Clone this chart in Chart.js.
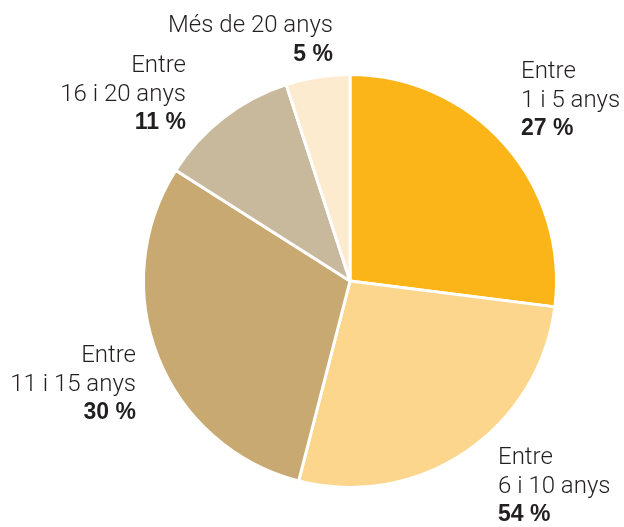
<!DOCTYPE html>
<html>
<head>
<meta charset="utf-8">
<script src="https://cdn.jsdelivr.net/npm/chart.js@4/dist/chart.umd.min.js"></script>
<style>
html,body{margin:0;padding:0;background:#fff;}
canvas{display:block;}
</style>
</head>
<body>
<canvas id="c" width="624" height="527"></canvas>
<script>
// Data
const categories = ["Entre 1 i 5 anys", "Entre 6 i 10 anys", "Entre 11 i 15 anys", "Entre 16 i 20 anys", "Més de 20 anys"];
const values = [27, 27, 30, 11, 5];
const percentLabels = ["27 %", "54 %", "30 %", "11 %", "5 %"];
const labelLines = [
  ["Entre", "1 i 5 anys"],
  ["Entre", "6 i 10 anys"],
  ["Entre", "11 i 15 anys"],
  ["Entre", "16 i 20 anys"],
  ["Més de 20 anys"]
];
const colors = ["#FCB519", "#FDD68E", "#C8A971", "#C8B99C", "#FDEBCF"];

// Label placement (relative to pie centre, pixels): [dx of anchor, dy of first baseline, align]
const labelPlacement = [
  [171, -203, "left"],
  [148, 183, "left"],
  [-214, 81, "right"],
  [-164, -209, "right"],
  [-17, -249, "right"]
];

const FONT = "'Roboto','Liberation Sans',Arial,sans-serif";

const labelsPlugin = {
  id: 'sliceLabels',
  afterDraw(chart) {
    const ctx = chart.ctx;
    const meta = chart.getDatasetMeta(0);
    const arc = meta.data[0];
    const cx = arc.x, cy = arc.y;
    const lh = 28.7;
    ctx.save();
    ctx.fillStyle = '#231F20';
    ctx.textBaseline = 'alphabetic';
    labelLines.forEach((lines, i) => {
      const [dx, dy, align] = labelPlacement[i];
      ctx.textAlign = align;
      const x = cx + dx;
      let y = cy + dy;
      ctx.font = "300 24px " + FONT;
      lines.forEach(t => { ctx.fillText(t, x, y); y += lh; });
      ctx.font = "bold 23px 'Liberation Sans',Arial,sans-serif";
      ctx.fillText(percentLabels[i], x, y);
    });
    ctx.restore();
  }
};

new Chart(document.getElementById('c'), {
  type: 'pie',
  data: {
    labels: categories,
    datasets: [{
      data: values,
      backgroundColor: colors,
      borderColor: '#ffffff',
      borderWidth: 3
    }]
  },
  options: {
    responsive: false,
    animation: false,
    layout: { padding: { left: 142, right: 66, top: 72, bottom: 37 } },
    plugins: {
      legend: { display: false },
      tooltip: { enabled: false }
    }
  },
  plugins: [labelsPlugin]
});
</script>
</body>
</html>
